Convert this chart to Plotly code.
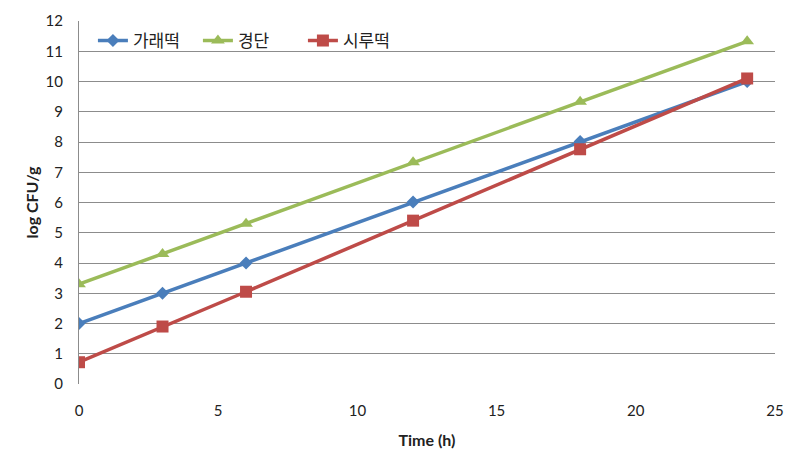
import plotly.graph_objects as go

time_h = [0, 3, 6, 12, 18, 24]
garaetteok = [2.0, 3.0, 4.0, 6.02, 8.02, 10.0]
gyeongdan = [3.3, 4.3, 5.3, 7.33, 9.33, 11.33]
sirutteok = [0.72, 1.9, 3.05, 5.4, 7.76, 10.1]

series = [
    ("가래떡", garaetteok, "#4A7EBB", "diamond", 10),
    ("경단", gyeongdan, "#9BBB59", "triangle-up", 12),
    ("시루떡", sirutteok, "#BE4B48", "square", 12),
]

fig = go.Figure()
for name, ys, color, sym, size in series:
    fig.add_trace(go.Scatter(
        x=time_h, y=ys, name=name, mode="lines+markers",
        line=dict(color=color, width=3.5),
        marker=dict(symbol=sym, size=size, color=color),
    ))

font_lat = "Lato, 'Open Sans', 'Noto Sans CJK KR', sans-serif"
fig.update_layout(
    width=807, height=473,
    margin=dict(l=79, r=32, t=21, b=89),
    paper_bgcolor="white", plot_bgcolor="white",
    font=dict(family=font_lat, size=15, color="#222"),
    showlegend=True,
    legend=dict(
        orientation="h", x=0.02, y=0.945, xanchor="left", yanchor="middle",
        bgcolor="rgba(0,0,0,0)",
        font=dict(family="'Noto Sans CJK KR', sans-serif", size=17, color="#222"),
        entrywidth=60, entrywidthmode="pixels",
    ),
    xaxis=dict(
        range=[0, 25], tick0=0, dtick=5, showgrid=False, zeroline=False,
        showline=False, ticks="", tickfont=dict(size=15), ticklabelstandoff=16,
        title=dict(text="<b>Time (h)</b>", font=dict(size=16), standoff=16),
    ),
    yaxis=dict(
        range=[0, 12], dtick=1, showgrid=True, gridcolor="#8C8C8C", gridwidth=1.3,
        zeroline=False, showline=True, linecolor="#8C8C8C", linewidth=1.3,
        ticks="", tickfont=dict(size=15), ticklabelstandoff=12,
        title=dict(text="<b>log CFU/g</b>", font=dict(size=16), standoff=2),
    ),
)

fig.write_html("out.html")
